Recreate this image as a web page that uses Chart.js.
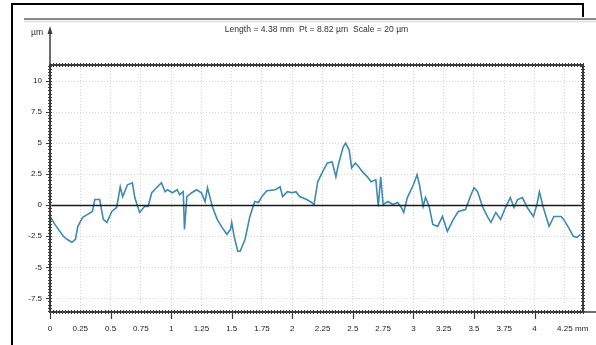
<!DOCTYPE html>
<html>
<head>
<meta charset="utf-8">
<title>Surface profile</title>
<script src="https://cdn.jsdelivr.net/npm/chart.js@4.4.1/dist/chart.umd.min.js"></script>
<style>
  html, body { margin: 0; padding: 0; background: #fff; }
  #wrap { position: relative; width: 596px; height: 345px; }
  canvas { display: block; }
</style>
</head>
<body>
<div id="wrap"><canvas id="profile" width="596" height="345"></canvas></div>
<script>
// Profile trace: position along the scan (mm) and surface height (µm)
const positionMm = [
  0.00, 0.04, 0.11, 0.14, 0.18, 0.21, 0.23, 0.27, 0.31, 0.35,
  0.37, 0.41, 0.44, 0.47, 0.51, 0.55, 0.58, 0.60, 0.64, 0.68,
  0.70, 0.74, 0.78, 0.81, 0.84, 0.88, 0.92, 0.95, 0.97, 1.01,
  1.05, 1.07, 1.10, 1.11, 1.13, 1.17, 1.21, 1.25, 1.28, 1.30,
  1.34, 1.38, 1.42, 1.46, 1.49, 1.50, 1.52, 1.55, 1.57, 1.61,
  1.65, 1.69, 1.72, 1.75, 1.79, 1.86, 1.90, 1.92, 1.96, 2.00,
  2.03, 2.06, 2.12, 2.16, 2.18, 2.21, 2.25, 2.29, 2.33, 2.36,
  2.38, 2.42, 2.44, 2.47, 2.49, 2.52, 2.55, 2.58, 2.62, 2.65,
  2.69, 2.71, 2.73, 2.75, 2.79, 2.83, 2.87, 2.90, 2.92, 2.95,
  3.00, 3.03, 3.05, 3.08, 3.10, 3.13, 3.16, 3.20, 3.24, 3.28,
  3.33, 3.37, 3.43, 3.47, 3.50, 3.53, 3.57, 3.61, 3.64, 3.68,
  3.72, 3.76, 3.80, 3.83, 3.86, 3.90, 3.94, 3.99, 4.02, 4.04,
  4.07, 4.12, 4.16, 4.22, 4.24, 4.28, 4.32, 4.35, 4.38
];
const heightUm = [
  -0.90, -1.54, -2.50, -2.74, -2.98, -2.74, -1.70, -0.98, -0.74, -0.50,
   0.46,  0.46, -1.14, -1.38, -0.50, -0.18,  1.49,  0.70,  1.65,  1.81,
   0.62, -0.58, -0.10, -0.10,  1.01,  1.41,  1.81,  1.09,  1.25,  1.01,
   1.25,  0.85,  1.09, -1.94,  0.70,  1.01,  1.25,  1.01,  0.30,  1.41,
  -0.10, -1.14, -1.78, -2.34, -1.94, -1.38, -2.50, -3.70, -3.70, -2.74,
  -0.90,  0.30,  0.22,  0.70,  1.17,  1.25,  1.49,  0.70,  1.09,  1.01,
   1.09,  0.70,  0.46,  0.22,  0.06,  1.89,  2.69,  3.41,  3.49,  2.29,
   3.25,  4.69,  5.01,  4.45,  3.01,  3.41,  3.09,  2.69,  2.29,  1.89,
   2.05, -0.10,  2.29,  0.06,  0.30,  0.06,  0.22, -0.18, -0.58,  0.62,
   1.65,  2.45,  1.65, -0.10,  0.62, -0.10, -1.54, -1.70, -0.90, -2.10,
  -1.14, -0.50, -0.34,  0.70,  1.41,  1.09, -0.10, -0.90, -1.38, -0.58,
  -1.14, -0.18,  0.62, -0.18,  0.46,  0.62, -0.18, -0.90,  0.06,  1.09,
  -0.10, -1.70, -0.90, -0.90, -1.14, -1.78, -2.50, -2.58, -2.34
];

// Axis ticks and ranges
const xTickValues = [0, 0.25, 0.5, 0.75, 1, 1.25, 1.5, 1.75, 2, 2.25, 2.5, 2.75, 3, 3.25, 3.5, 3.75, 4, 4.25];
const yTickValues = [-7.5, -5, -2.5, 0, 2.5, 5, 7.5, 10];
const xRange = [0, 4.4];
const yRange = [-8.6, 11.3];

const headerText = 'Length = 4.38 mm  Pt = 8.82 µm  Scale = 20 µm';
const yUnit = 'µm';
const xUnit = 'mm';

const FONT = "'Liberation Sans Narrow', 'Arial Narrow', 'Liberation Sans', sans-serif";
const AXIS = '#3c3c3c';

const points = positionMm.map((x, i) => ({ x: x, y: heightUm[i] }));

function fmt(v) { return String(+v.toFixed(2)); }

// Frame, axes with dense ticks, zero line, header and unit labels
const profileDecor = {
  id: 'profileDecor',
  beforeDraw(chart) {
    const ctx = chart.ctx;
    ctx.save();
    ctx.fillStyle = '#fff';
    ctx.fillRect(0, 0, chart.width, chart.height);
    // outer black frame
    ctx.strokeStyle = '#000';
    ctx.lineWidth = 2;
    ctx.beginPath();
    ctx.moveTo(12, 345);
    ctx.lineTo(12, 4);
    ctx.lineTo(583, 4);
    ctx.lineTo(583, 17);
    ctx.stroke();
    // grey rule under the frame
    ctx.strokeStyle = '#8a8a8a';
    ctx.lineWidth = 2;
    ctx.beginPath();
    ctx.moveTo(24, 19);
    ctx.lineTo(596, 19);
    ctx.stroke();
    ctx.strokeStyle = 'rgba(150,150,150,0.25)';
    ctx.lineWidth = 2;
    ctx.beginPath();
    ctx.moveTo(24, 21.5);
    ctx.lineTo(596, 21.5);
    ctx.stroke();
    ctx.restore();
  },
  afterDatasetsDraw(chart) {
    const { ctx, chartArea: a, scales } = chart;
    const xs = scales.x, ys = scales.y;
    ctx.save();
    // zero reference line
    const y0 = Math.round(ys.getPixelForValue(0)) + 0.5;
    ctx.strokeStyle = '#1a1a1a';
    ctx.lineWidth = 1.6;
    ctx.beginPath();
    ctx.moveTo(a.left, y0);
    ctx.lineTo(a.right, y0);
    ctx.stroke();

    // minor ticks along all four edges
    ctx.strokeStyle = AXIS;
    ctx.lineWidth = 1;
    ctx.beginPath();
    for (let i = 0; i * 0.025 <= xRange[1] + 1e-9; i++) {
      const px = Math.round(xs.getPixelForValue(i * 0.025)) + 0.5;
      ctx.moveTo(px, a.top - 2); ctx.lineTo(px, a.top + 2);
      ctx.moveTo(px, a.bottom - 2); ctx.lineTo(px, a.bottom + 2);
    }
    for (let j = Math.ceil(yRange[0] / 0.25); j * 0.25 <= yRange[1]; j++) {
      const py = Math.round(ys.getPixelForValue(j * 0.25)) + 0.5;
      ctx.moveTo(a.left - 2, py); ctx.lineTo(a.left + 2, py);
      ctx.moveTo(a.right - 2, py); ctx.lineTo(a.right + 2, py);
    }
    ctx.stroke();

    // major ticks on the length axis
    ctx.lineWidth = 1.2;
    ctx.beginPath();
    for (let k = 0; k * 0.5 <= xRange[1]; k++) {
      const px = Math.round(xs.getPixelForValue(k * 0.5)) + 0.5;
      ctx.moveTo(px, a.bottom); ctx.lineTo(px, a.bottom + 7);
    }
    for (const v of yTickValues) {
      const py = Math.round(ys.getPixelForValue(v)) + 0.5;
      ctx.moveTo(a.left - 4, py); ctx.lineTo(a.left, py);
    }
    ctx.stroke();

    // plot border
    ctx.lineWidth = 2;
    ctx.strokeStyle = AXIS;
    ctx.strokeRect(a.left, a.top, a.right - a.left, a.bottom - a.top);

    // height axis arrow
    ctx.lineWidth = 1.5;
    ctx.beginPath();
    ctx.moveTo(a.left, a.top);
    ctx.lineTo(a.left, 29);
    ctx.stroke();
    ctx.fillStyle = AXIS;
    ctx.beginPath();
    ctx.moveTo(a.left, 26);
    ctx.lineTo(a.left - 2.5, 34);
    ctx.lineTo(a.left + 2.5, 34);
    ctx.closePath();
    ctx.fill();
    // length axis extension
    ctx.beginPath();
    ctx.moveTo(a.right, a.bottom);
    ctx.lineTo(596, a.bottom);
    ctx.stroke();

    // texts
    ctx.fillStyle = '#333';
    ctx.font = '8.6px ' + FONT;
    ctx.textBaseline = 'middle';
    ctx.textAlign = 'center';
    ctx.fillText(headerText, (a.left + a.right) / 2, 30);
    ctx.textAlign = 'left';
    ctx.fillText(yUnit, 31, 33);
    ctx.fillStyle = '#222';
    ctx.font = '8px ' + FONT;
    ctx.fillText(xUnit, 575, 329);
    ctx.restore();
  }
};

new Chart(document.getElementById('profile'), {
  type: 'line',
  data: {
    datasets: [{
      data: points,
      borderColor: '#3d8baf',
      borderWidth: 1.6,
      pointRadius: 0,
      tension: 0,
      fill: false
    }]
  },
  options: {
    responsive: false,
    animation: false,
    events: [],
    layout: { padding: { left: 10, top: 65, right: 13, bottom: 0 } },
    plugins: {
      legend: { display: false },
      tooltip: { enabled: false },
      title: { display: false }
    },
    scales: {
      x: {
        type: 'linear',
        min: xRange[0],
        max: xRange[1],
        afterBuildTicks(s) { s.ticks = xTickValues.map(v => ({ value: v })); },
        afterFit(s) { s.height = 33; },
        grid: { color: '#d6d6d6', lineWidth: 1, drawTicks: false },
        border: { display: false, dash: [1, 2] },
        ticks: {
          padding: 12,
          maxRotation: 0,
          autoSkip: false,
          color: '#222',
          font: { family: FONT, size: 8 },
          callback: v => fmt(v)
        }
      },
      y: {
        type: 'linear',
        min: yRange[0],
        max: yRange[1],
        afterBuildTicks(s) { s.ticks = yTickValues.map(v => ({ value: v })); },
        afterFit(s) { s.width = 40; },
        grid: { color: '#d6d6d6', lineWidth: 1, drawTicks: false },
        border: { display: false, dash: [1, 2] },
        ticks: {
          padding: 8,
          autoSkip: false,
          color: '#222',
          font: { family: FONT, size: 8 },
          callback: v => fmt(v)
        }
      }
    }
  },
  plugins: [profileDecor]
});
</script>
</body>
</html>
